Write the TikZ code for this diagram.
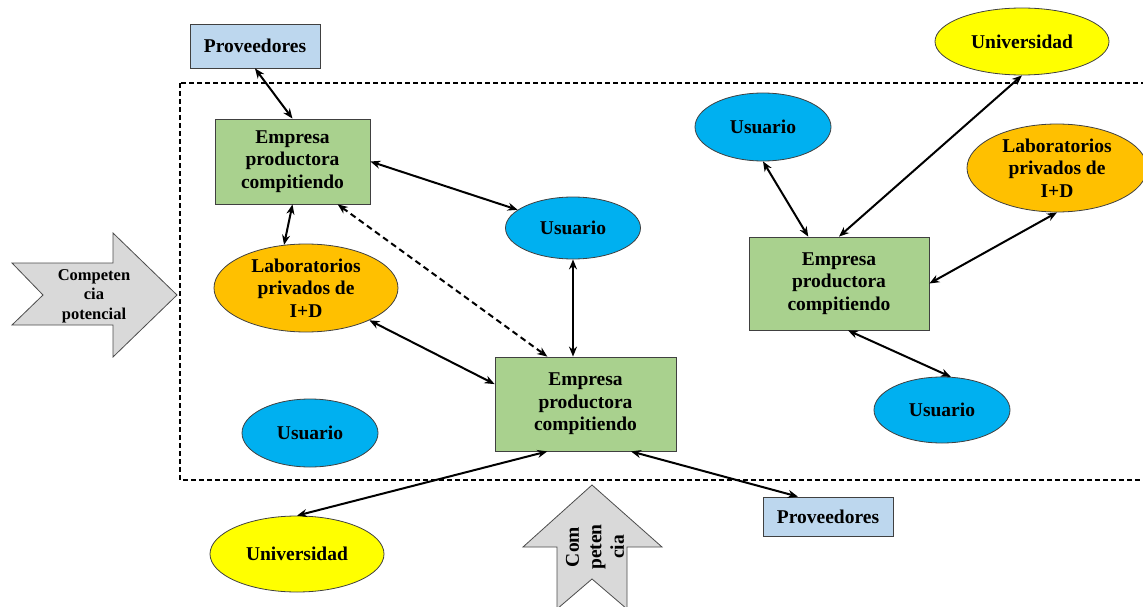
\documentclass[tikz,border=0pt]{standalone}
\usepackage{fontspec}
\setmainfont{Liberation Serif}
\usetikzlibrary{shapes.geometric,arrows.meta,calc}
\definecolor{provblue}{RGB}{189,215,238}
\definecolor{empgreen}{RGB}{169,209,142}
\definecolor{usrcyan}{RGB}{0,176,240}
\definecolor{laborange}{RGB}{255,192,0}
\definecolor{uniyellow}{RGB}{255,255,0}
\definecolor{arrowgrey}{RGB}{217,217,217}
\begin{document}
\begin{tikzpicture}[x=1pt,y=-1pt,
  every node/.style={font=\fontsize{19.5}{22.5}\selectfont\bfseries},
  box/.style={draw=black!75, line width=0.8pt, inner sep=0pt, align=center},
  oval/.style={ellipse, draw=black!75, line width=0.8pt, inner sep=0pt},
  link/.style={line width=2pt, {Stealth[length=10pt,width=8pt]}-{Stealth[length=10pt,width=8pt]}},
  bigarrow/.style={draw=black!70, line width=0.8pt, fill=arrowgrey},
]
\useasboundingbox (0,0) rectangle (1143,607);

% market boundary
\draw[line width=1.2pt, dash pattern=on 5pt off 3pt] (180,83) rectangle (1170,480);

% competitor arrows
\draw[bigarrow] (12,263) -- (113,263) -- (113,233) -- (177,295) -- (113,357)
  -- (113,325) -- (12,325) -- (43,295) -- cycle;
\node[align=center, font=\fontsize{16.5}{19.5}\selectfont\bfseries] (cpot) at (94,296) {Competen\\cia\\potencial};

\draw[bigarrow] (592,485) -- (662,547) -- (627,547) -- (627,609) -- (592,579)
  -- (557,609) -- (557,547) -- (523,547) -- cycle;
\node[align=center, rotate=90] (comp) at (595,547) {Com\\peten\\cia};

% actors
\node[box, fill=provblue, minimum width=130pt, minimum height=44pt] (pv1) at (255,46) {Proveedores};
\node[box, fill=empgreen, minimum width=155pt, minimum height=85pt] (e1) at (292.5,161.5) {Empresa\\productora\\compitiendo};
\node[oval, fill=usrcyan, minimum width=135pt, minimum height=62pt, label=center:Usuario] (u1) at (573,228) {};
\node[oval, fill=laborange, minimum width=184pt, minimum height=88pt,
  label={[align=center]center:Laboratorios\\privados de\\I+D}] (l1) at (306,288) {};
\node[oval, fill=usrcyan, minimum width=136pt, minimum height=68pt, label=center:Usuario] (u4) at (310,433) {};
\node[box, fill=empgreen, minimum width=181pt, minimum height=94pt] (e2) at (585.5,404) {Empresa\\productora\\compitiendo};
\node[oval, fill=uniyellow, minimum width=174pt, minimum height=76pt, label=center:Universidad] (uv1) at (297,554) {};
\node[box, fill=provblue, minimum width=130pt, minimum height=39pt] (pv2) at (828,516.5) {Proveedores};
\node[oval, fill=usrcyan, minimum width=136pt, minimum height=68pt, label=center:Usuario] (u2) at (763,127) {};
\node[oval, fill=uniyellow, minimum width=174pt, minimum height=67pt, label=center:Universidad] (uv2) at (1022,41.5) {};
\node[oval, fill=laborange, minimum width=180pt, minimum height=88pt,
  label={[align=center]center:Laboratorios\\privados de\\I+D}] (l2) at (1057,168) {};
\node[box, fill=empgreen, minimum width=180pt, minimum height=93pt] (e3) at (839,283.5) {Empresa\\productora\\compitiendo};
\node[oval, fill=usrcyan, minimum width=136pt, minimum height=66pt, label=center:Usuario] (u3) at (942,410) {};

% relations
\draw[link] (pv1.south) -- (e1.north);
\draw[link] (e1.east) -- (u1);
\draw[link] (e1.south) -- (l1.117);
\draw[link, dash pattern=on 6pt off 4pt] ($(e1.south west)!0.79!(e1.south east)$) -- ($(e2.north west)!0.29!(e2.north east)$);
\draw[link] (u1.south) -- (u1.south |- e2.north);
\draw[link] (l1.-27) -- ($(e2.north west)!0.29!(e2.south west)$);
\draw[link] ($(e2.south west)!0.29!(e2.south east)$) -- (uv1.north);
\draw[link] ($(e2.south west)!0.75!(e2.south east)$) -- ($(pv2.north west)!0.27!(pv2.north east)$);
\draw[link] (u2.south) -- ($(e3.north west)!0.33!(e3.north east)$);
\draw[link] (e3.north) -- (uv2.south);
\draw[link] (e3.east) -- (l2.south);
\draw[link] ($(e3.south)+(9,0)$) -- (u3.75);
\end{tikzpicture}
\end{document}
